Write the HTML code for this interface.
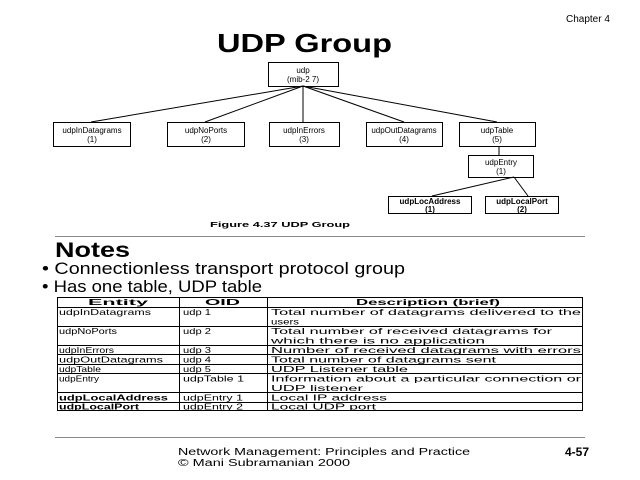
<!DOCTYPE html>
<html><head><style>
html,body{margin:0;padding:0;background:#fff;}
svg{display:block;font-family:"Liberation Sans",Arial,sans-serif;}
</style></head><body>
<svg width="640" height="480" viewBox="0 0 640 480" xmlns="http://www.w3.org/2000/svg">
<text x="566" y="22" font-size="10">Chapter 4</text>
<text x="217" y="52" font-size="26" font-weight="bold" textLength="175" lengthAdjust="spacingAndGlyphs">UDP Group</text>
<g stroke="#000" stroke-width="1" fill="none">
<line x1="303" y1="86" x2="91" y2="122"/>
<line x1="303" y1="86" x2="205" y2="122"/>
<line x1="303" y1="86" x2="303" y2="122"/>
<line x1="303" y1="86" x2="404" y2="122"/>
<line x1="303" y1="86" x2="497" y2="122"/>
<line x1="499" y1="146" x2="499" y2="155"/>
<line x1="514" y1="177" x2="432" y2="196"/>
<line x1="514" y1="177" x2="528" y2="196"/>
<rect x="268.5" y="62.5" width="70" height="24"/>
<rect x="53.5" y="122.5" width="77" height="24"/>
<rect x="167.5" y="122.5" width="77" height="24"/>
<rect x="269.5" y="122.5" width="70" height="24"/>
<rect x="366.5" y="122.5" width="76" height="24"/>
<rect x="459.5" y="122.5" width="76" height="24"/>
<rect x="468.5" y="155.5" width="65" height="22"/>
<rect x="388.5" y="196.5" width="83" height="17"/>
<rect x="485.5" y="196.5" width="73" height="17"/>
</g>
<g font-size="8" text-anchor="middle">
<text x="303" y="73">udp</text><text x="303" y="82">(mib-2 7)</text>
<text x="92" y="133">udpInDatagrams</text><text x="92" y="142">(1)</text>
<text x="206" y="133">udpNoPorts</text><text x="206" y="142">(2)</text>
<text x="304" y="133">udpInErrors</text><text x="304" y="142">(3)</text>
<text x="404" y="133">udpOutDatagrams</text><text x="404" y="142">(4)</text>
<text x="497" y="133">udpTable</text><text x="497" y="142">(5)</text>
<text x="501" y="165">udpEntry</text><text x="501" y="174">(1)</text>
<g font-weight="bold"><text x="430" y="204">udpLocAddress</text><text x="430" y="212">(1)</text>
<text x="522" y="204">udpLocalPort</text><text x="522" y="212">(2)</text></g>
</g>
<text x="210" y="227" font-size="7" font-weight="bold" textLength="140" lengthAdjust="spacingAndGlyphs">Figure 4.37  UDP Group</text>
<line x1="55" y1="236.5" x2="585" y2="236.5" stroke="#888"/>
<text x="55" y="257" font-size="21" font-weight="bold" textLength="75" lengthAdjust="spacingAndGlyphs">Notes</text>
<text x="42" y="274" font-size="17" textLength="363" lengthAdjust="spacingAndGlyphs">• Connectionless transport protocol group</text>
<text x="42" y="292" font-size="17" textLength="220" lengthAdjust="spacingAndGlyphs">• Has one table, UDP table</text>
<g stroke="#000" stroke-width="1" fill="none">
<rect x="57.5" y="297.5" width="525" height="113"/>
<line x1="57" y1="307.5" x2="583" y2="307.5"/>
<line x1="179.5" y1="297" x2="179.5" y2="411"/>
<line x1="267.5" y1="297" x2="267.5" y2="411"/>
<line x1="57" y1="326.5" x2="583" y2="326.5"/>
<line x1="57" y1="345.5" x2="583" y2="345.5"/>
<line x1="57" y1="354.5" x2="583" y2="354.5"/>
<line x1="57" y1="364.5" x2="583" y2="364.5"/>
<line x1="57" y1="373.5" x2="583" y2="373.5"/>
<line x1="57" y1="392.5" x2="583" y2="392.5"/>
<line x1="57" y1="402.5" x2="583" y2="402.5"/>
</g>
<g font-size="8.5">
<g font-weight="bold"><text x="88" y="305" textLength="60" lengthAdjust="spacingAndGlyphs">Entity</text><text x="205" y="305" textLength="35" lengthAdjust="spacingAndGlyphs">OID</text><text x="356" y="305" textLength="144" lengthAdjust="spacingAndGlyphs">Description (brief)</text></g>
<text x="59" y="315" textLength="92" lengthAdjust="spacingAndGlyphs">udpInDatagrams</text><text x="183" y="315" textLength="28" lengthAdjust="spacingAndGlyphs">udp 1</text><text x="271" y="315" textLength="310" lengthAdjust="spacingAndGlyphs">Total number of datagrams delivered to the</text><text x="271" y="324.5" textLength="28" lengthAdjust="spacingAndGlyphs">users</text>
<text x="59" y="334" textLength="58" lengthAdjust="spacingAndGlyphs">udpNoPorts</text><text x="183" y="334" textLength="28" lengthAdjust="spacingAndGlyphs">udp 2</text><text x="271" y="334" textLength="281" lengthAdjust="spacingAndGlyphs">Total number of received datagrams for</text><text x="271" y="343.5" textLength="214" lengthAdjust="spacingAndGlyphs">which there is no application</text>
<text x="59" y="353" textLength="55" lengthAdjust="spacingAndGlyphs">udpInErrors</text><text x="183" y="353" textLength="28" lengthAdjust="spacingAndGlyphs">udp 3</text><text x="271" y="353" textLength="310" lengthAdjust="spacingAndGlyphs">Number of received datagrams with errors</text>
<text x="59" y="362.5" textLength="104" lengthAdjust="spacingAndGlyphs">udpOutDatagrams</text><text x="183" y="362.5" textLength="28" lengthAdjust="spacingAndGlyphs">udp 4</text><text x="271" y="362.5" textLength="225" lengthAdjust="spacingAndGlyphs">Total number of datagrams sent</text>
<text x="59" y="372" textLength="42" lengthAdjust="spacingAndGlyphs">udpTable</text><text x="183" y="372" textLength="28" lengthAdjust="spacingAndGlyphs">udp 5</text><text x="271" y="372" textLength="137" lengthAdjust="spacingAndGlyphs">UDP Listener table</text>
<text x="59" y="381.5" textLength="40" lengthAdjust="spacingAndGlyphs">udpEntry</text><text x="183" y="381.5" textLength="61" lengthAdjust="spacingAndGlyphs">udpTable 1</text><text x="271" y="381.5" textLength="310" lengthAdjust="spacingAndGlyphs">Information about a particular connection or</text><text x="271" y="391" textLength="92" lengthAdjust="spacingAndGlyphs">UDP listener</text>
<text x="59" y="400.5" font-weight="bold" textLength="109" lengthAdjust="spacingAndGlyphs">udpLocalAddress</text><text x="183" y="400.5" textLength="60" lengthAdjust="spacingAndGlyphs">udpEntry 1</text><text x="271" y="400.5" textLength="116" lengthAdjust="spacingAndGlyphs">Local IP address</text>
<text x="59" y="409.5" font-weight="bold" textLength="80" lengthAdjust="spacingAndGlyphs">udpLocalPort</text><text x="183" y="409.5" textLength="60" lengthAdjust="spacingAndGlyphs">udpEntry 2</text><text x="271" y="409.5" textLength="105" lengthAdjust="spacingAndGlyphs">Local UDP port</text>
</g>
<line x1="55" y1="437.5" x2="585" y2="437.5" stroke="#888"/>
<text x="178" y="455" font-size="10" textLength="292" lengthAdjust="spacingAndGlyphs">Network Management: Principles and Practice</text>
<text x="178" y="466" font-size="10" textLength="172" lengthAdjust="spacingAndGlyphs">© Mani Subramanian 2000</text>
<text x="565" y="456" font-size="12" font-weight="bold">4-57</text>
</svg>
</body></html>
